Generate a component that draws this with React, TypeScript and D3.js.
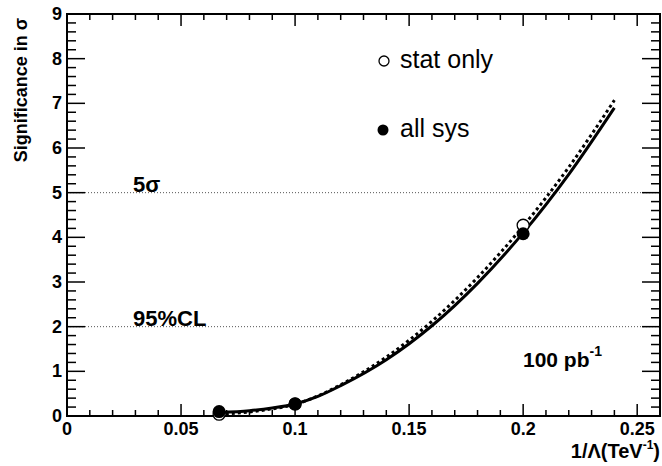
import React from "react";
import * as d3 from "d3";
import { useEffect, useRef } from "react";

// measured points
const pointX = [0.0667, 0.1, 0.2];
const statOnly = [0.04, 0.27, 4.27];
const allSys = [0.1, 0.27, 4.08];

// fitted curves
const curveX = [0.067, 0.08, 0.09, 0.1, 0.11, 0.12, 0.14, 0.16, 0.18, 0.2, 0.22, 0.24];
const curveSys = [0.08, 0.12, 0.18, 0.27, 0.44, 0.68, 1.26, 2.02, 2.97, 4.1, 5.41, 6.9];
const curveStat = [0.04, 0.09, 0.16, 0.26, 0.45, 0.7, 1.32, 2.12, 3.1, 4.25, 5.57, 7.07];

const xTicks = [0, 0.05, 0.1, 0.15, 0.2, 0.25];
const xTickLabels = ["0", "0.05", "0.1", "0.15", "0.2", "0.25"];
const yTicks = [0, 1, 2, 3, 4, 5, 6, 7, 8, 9];
const refLines = [5, 2];
const refLabels = ["5σ", "95%CL"];

function App() {
  const svgRef = useRef<SVGSVGElement>(null);

  useEffect(() => {
    const w = 662;
    const h = 466;
    const left = 67, right = 660, top = 14, bottom = 416;
    const font = "'Liberation Sans', Arial, Helvetica, sans-serif";

    const svg = d3.select(svgRef.current).attr("width", w).attr("height", h);
    svg.selectAll("*").remove();
    svg.append("rect").attr("width", w).attr("height", h).attr("fill", "white");

    const x = d3.scaleLinear().domain([0, 0.26]).range([left, right]);
    const y = d3.scaleLinear().domain([0, 9]).range([bottom, top]);

    // reference lines
    svg
      .selectAll(".ref")
      .data(refLines)
      .join("line")
      .attr("x1", left)
      .attr("x2", right)
      .attr("y1", (d) => y(d))
      .attr("y2", (d) => y(d))
      .attr("stroke", "#555")
      .attr("stroke-width", 1)
      .attr("stroke-dasharray", "1,2");

    svg
      .selectAll(".reflab")
      .data(refLines)
      .join("text")
      .attr("x", 133)
      .attr("y", (d) => y(d) - 1)
      .attr("font-family", font)
      .attr("font-weight", "bold")
      .attr("font-size", 22)
      .text((d, i) => refLabels[i]);

    // ticks
    const xMinor = d3.range(0, 0.2601, 0.01);
    const yMinor = d3.range(0, 9.001, 0.2);
    const isMajorX = (v: number) => Math.abs(v / 0.05 - Math.round(v / 0.05)) < 1e-6;
    const isMajorY = (v: number) => Math.abs(v - Math.round(v)) < 1e-6;
    const g = svg.append("g").attr("stroke", "black").attr("stroke-width", 1.5);
    xMinor.forEach((v) => {
      const len = isMajorX(v) ? 12 : 6;
      g.append("line").attr("x1", x(v)).attr("x2", x(v)).attr("y1", bottom).attr("y2", bottom - len);
      g.append("line").attr("x1", x(v)).attr("x2", x(v)).attr("y1", top).attr("y2", top + len);
    });
    yMinor.forEach((v) => {
      const len = isMajorY(v) ? 18 : 9;
      g.append("line").attr("x1", left).attr("x2", left + len).attr("y1", y(v)).attr("y2", y(v));
      g.append("line").attr("x1", right).attr("x2", right - len).attr("y1", y(v)).attr("y2", y(v));
    });

    // frame
    svg
      .append("rect")
      .attr("x", left)
      .attr("y", top)
      .attr("width", right - left)
      .attr("height", bottom - top)
      .attr("fill", "none")
      .attr("stroke", "black")
      .attr("stroke-width", 2);

    // tick labels
    svg
      .selectAll(".xl")
      .data(xTicks)
      .join("text")
      .attr("x", (d) => x(d))
      .attr("y", 435)
      .attr("text-anchor", "middle")
      .attr("font-family", font)
      .attr("font-weight", "bold")
      .attr("font-size", 18)
      .text((d, i) => xTickLabels[i]);

    svg
      .selectAll(".yl")
      .data(yTicks)
      .join("text")
      .attr("x", 62)
      .attr("y", (d) => y(d) + 6)
      .attr("text-anchor", "end")
      .attr("font-family", font)
      .attr("font-weight", "bold")
      .attr("font-size", 18)
      .text((d) => d);

    // axis titles
    const xt = svg
      .append("text")
      .attr("x", 660)
      .attr("y", 458)
      .attr("text-anchor", "end")
      .attr("font-family", font)
      .attr("font-weight", "bold")
      .attr("font-size", 20);
    xt.append("tspan").text("1/Λ(TeV");
    xt.append("tspan").attr("font-size", 12).attr("dy", -9).text("-1");
    xt.append("tspan").attr("dy", 9).text(")");

    svg
      .append("text")
      .attr("transform", "translate(27,18) rotate(-90)")
      .attr("text-anchor", "end")
      .attr("font-family", font)
      .attr("font-weight", "bold")
      .attr("font-size", 18)
      .text("Significance in σ");

    // curves
    const line = d3
      .line<number>()
      .x((d, i) => x(curveX[i]))
      .y((d) => y(d))
      .curve(d3.curveMonotoneX);

    svg
      .append("path")
      .attr("d", line(curveSys))
      .attr("fill", "none")
      .attr("stroke", "black")
      .attr("stroke-width", 3);

    svg
      .append("path")
      .attr("d", line(curveStat))
      .attr("fill", "none")
      .attr("stroke", "black")
      .attr("stroke-width", 3)
      .attr("stroke-dasharray", "3,3");

    // points
    svg
      .selectAll(".stat")
      .data(statOnly)
      .join("circle")
      .attr("cx", (d, i) => x(pointX[i]))
      .attr("cy", (d) => y(d))
      .attr("r", 6)
      .attr("fill", "white")
      .attr("stroke", "black")
      .attr("stroke-width", 1.3);

    svg
      .selectAll(".sys")
      .data(allSys)
      .join("circle")
      .attr("cx", (d, i) => x(pointX[i]))
      .attr("cy", (d) => y(d))
      .attr("r", 6.5)
      .attr("fill", "black");

    // legend
    svg.append("circle").attr("cx", 384).attr("cy", 61).attr("r", 5)
      .attr("fill", "white").attr("stroke", "black").attr("stroke-width", 1.3);
    svg.append("circle").attr("cx", 383).attr("cy", 130).attr("r", 5.5).attr("fill", "black");
    svg.append("text").attr("x", 400).attr("y", 68).attr("font-family", font)
      .attr("font-size", 25).text("stat only");
    svg.append("text").attr("x", 400).attr("y", 137).attr("font-family", font)
      .attr("font-size", 25).text("all sys");

    // luminosity label
    const lum = svg.append("text").attr("x", 523).attr("y", 367).attr("font-family", font)
      .attr("font-weight", "bold").attr("font-size", 21);
    lum.append("tspan").text("100 pb");
    lum.append("tspan").attr("font-size", 14).attr("dy", -11).text("-1");
  }, []);

  return <svg ref={svgRef} style={{ position: "absolute", left: 0, top: 0 }}></svg>;
}

export default App;
